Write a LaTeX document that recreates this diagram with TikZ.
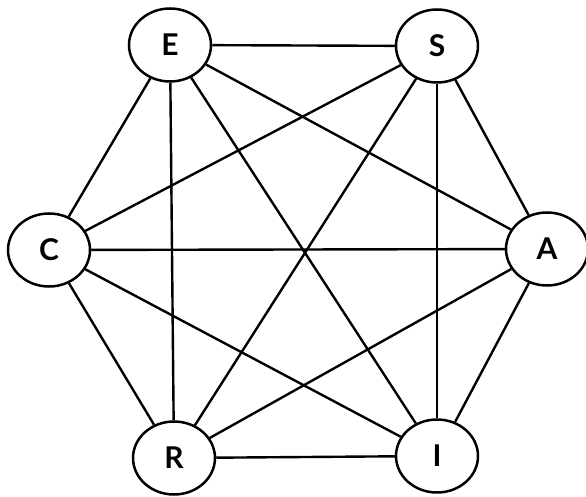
\documentclass[tikz,border=0pt]{standalone}
\usepackage{fontspec}
\setmainfont{Lato}
\usetikzlibrary{shapes.geometric}
\begin{document}
\begin{tikzpicture}[x=1pt,y=1pt,
  vertex/.style={draw=black, line width=2.5pt, ellipse, minimum width=82pt, minimum height=73pt, inner sep=0pt, fill=white, font=\fontsize{30}{30}\selectfont\bfseries},
  link/.style={draw=black, line width=2.4pt}]
\useasboundingbox (0,0) rectangle (586,496);
% six vertices on a hexagon
\node[vertex] (E) at (170,451) {E};
\node[vertex] (S) at (437,450) {S};
\node[vertex] (C) at (49,246) {C};
\node[vertex] (A) at (547,247) {A};
\node[vertex] (R) at (174,38) {R};
\node[vertex] (I) at (437,40) {I};
% every pair of vertices joined
\foreach \u/\v in {E/S,E/C,E/R,E/A,E/I,S/C,S/R,S/I,S/A,C/A,C/R,C/I,A/R,A/I,R/I}
  \draw[link] (\u) -- (\v);
\end{tikzpicture}
\end{document}
